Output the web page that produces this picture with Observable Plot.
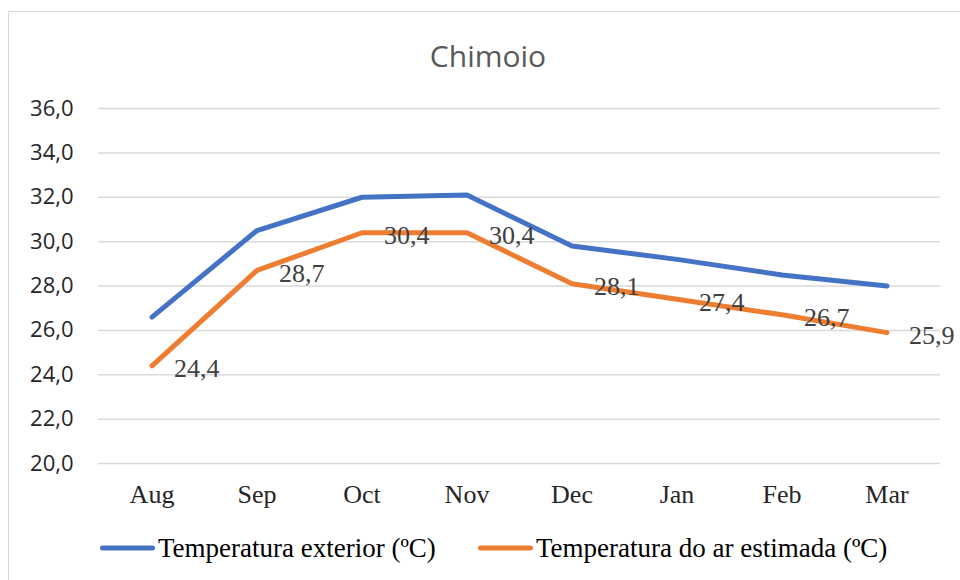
<!DOCTYPE html>
<html>
<head>
<meta charset="utf-8">
<script src="https://cdn.jsdelivr.net/npm/d3@7"></script>
<script src="https://cdn.jsdelivr.net/npm/@observablehq/plot@0.6"></script>
<style>
  html, body { margin: 0; padding: 0; background: #fff; }
  #wrap { position: relative; width: 960px; height: 580px; overflow: hidden; }
  #frame { position: absolute; left: 8px; top: 11px; width: 1000px; height: 600px; border: 1px solid #d9d9d9; box-sizing: border-box; pointer-events: none; }
  #title { position: absolute; left: 0; top: 0; width: 960px; height: 85px; }
  #title span { position: absolute; left: 488px; top: 55px; transform: translate(-50%, -50%); font-family: "Open Sans", sans-serif; font-size: 30px; color: #595959; white-space: nowrap; }
  #chart { position: absolute; left: 0; top: 85px; }
  #legend { position: absolute; left: 0; top: 520px; width: 960px; height: 60px; font-family: "Times New Roman", "Liberation Serif", serif; font-size: 27px; color: #000; }
  .item { position: absolute; top: 28px; transform: translateY(-50%); display: flex; align-items: center; white-space: nowrap; }
  .sw { width: 55px; height: 5px; border-radius: 3px; margin-right: 3px; }
</style>
</head>
<body>
<div id="wrap">
  <div id="title"><span>Chimoio</span></div>
  <div id="chart"></div>
  <div id="legend"></div>
  <div id="frame"></div>
</div>
<script>
const months = ["Aug", "Sep", "Oct", "Nov", "Dec", "Jan", "Feb", "Mar"];
const seriesNames = ["Temperatura exterior (ºC)", "Temperatura do ar estimada (ºC)"];
const exterior = [26.6, 30.5, 32.0, 32.1, 29.8, 29.2, 28.5, 28.0];
const estimada = [24.4, 28.7, 30.4, 30.4, 28.1, 27.4, 26.7, 25.9];
const yTicks = [20, 22, 24, 26, 28, 30, 32, 34, 36];
const colors = ["#4472C4", "#ED7D31"];

const fmt = d => d.toFixed(1).replace(".", ",");
const rows = [];
months.forEach((m, i) => {
  rows.push({month: m, value: exterior[i], series: seriesNames[0]});
  rows.push({month: m, value: estimada[i], series: seriesNames[1]});
});
const estRows = rows.filter(r => r.series === seriesNames[1]);

const chart = Plot.plot({
  width: 960,
  height: 435,
  marginLeft: 98,
  marginRight: 20,
  marginTop: 23,
  marginBottom: 57,
  style: { background: "transparent", overflow: "visible" },
  x: { type: "band", domain: months, padding: 0, label: null },
  y: { domain: [20, 36], label: null },
  color: { domain: seriesNames, range: colors },
  marks: [
    Plot.gridY(yTicks, { stroke: "#d9d9d9", strokeOpacity: 1, strokeWidth: 1.5 }),
    Plot.axisY(yTicks, { tickSize: 0, tickPadding: 25, tickFormat: fmt, fontSize: 22, fontFamily: "Open Sans, sans-serif", fill: "#262626", label: null }),
    Plot.axisX({ tickSize: 0, tickPadding: 21, fontSize: 26, fontFamily: "Times New Roman, Liberation Serif, serif", fill: "#262626", label: null }),
    Plot.lineY(rows, { x: "month", y: "value", z: "series", stroke: "series", strokeWidth: 5, strokeLinecap: "round", strokeLinejoin: "round" }),
    Plot.text(estRows, { x: "month", y: "value", text: d => fmt(d.value), textAnchor: "start", dx: 22, dy: 3, fontSize: 26, fontFamily: "Times New Roman, Liberation Serif, serif", fill: "#404040" })
  ]
});
document.getElementById("chart").appendChild(chart);

const legend = document.getElementById("legend");
const legendX = [100, 478];
seriesNames.forEach((name, i) => {
  const item = document.createElement("div");
  item.className = "item";
  item.style.left = legendX[i] + "px";
  const sw = document.createElement("div");
  sw.className = "sw";
  sw.style.background = colors[i];
  const t = document.createElement("span");
  t.textContent = name;
  item.appendChild(sw);
  item.appendChild(t);
  legend.appendChild(item);
});
</script>
</body>
</html>
